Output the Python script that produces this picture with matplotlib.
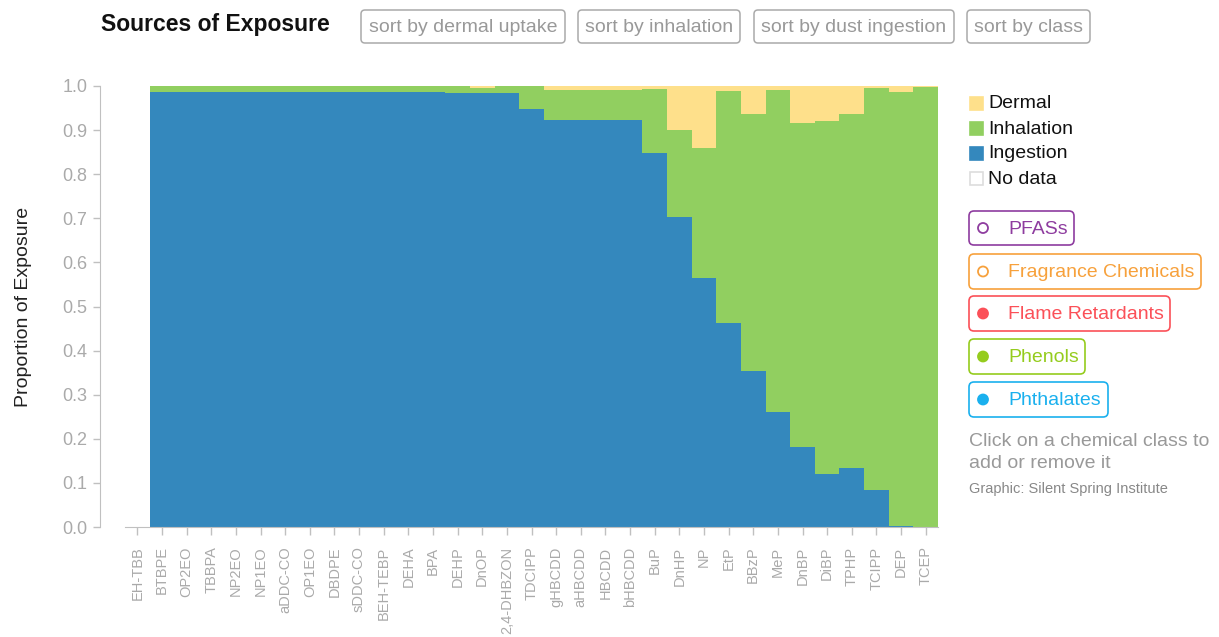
import numpy as np
import matplotlib
matplotlib.use("Agg")
import matplotlib.pyplot as plt
from matplotlib.patches import FancyBboxPatch, Rectangle, Circle

plt.rcParams['font.family'] = ['Liberation Sans', 'DejaVu Sans']

# ---------------- data ----------------
chemicals = ["EH-TBB", "BTBPE", "OP2EO", "TBBPA", "NP2EO", "NP1EO", "aDDC-CO", "OP1EO",
             "DBDPE", "sDDC-CO", "BEH-TEBP", "DEHA", "BPA", "DEHP", "DnOP", "2,4-DHBZON",
             "TDCIPP", "gHBCDD", "aHBCDD", "HBCDD", "bHBCDD", "BuP", "DnHP", "NP", "EtP",
             "BBzP", "MeP", "DnBP", "DiBP", "TPHP", "TCIPP", "DEP", "TCEP"]
ingestion = [np.nan, 0.987, 0.987, 0.987, 0.987, 0.987, 0.987, 0.987, 0.987, 0.987, 0.987,
             0.987, 0.987, 0.985, 0.983, 0.983, 0.947, 0.923, 0.923, 0.923, 0.923, 0.847,
             0.704, 0.565, 0.462, 0.354, 0.261, 0.181, 0.120, 0.134, 0.084, 0.003, 0.000]
inhalation = [np.nan, 0.013, 0.013, 0.013, 0.013, 0.013, 0.013, 0.013, 0.013, 0.013, 0.013,
              0.013, 0.013, 0.015, 0.013, 0.017, 0.053, 0.068, 0.068, 0.068, 0.068, 0.146,
              0.196, 0.294, 0.527, 0.583, 0.730, 0.734, 0.801, 0.803, 0.912, 0.984, 0.998]
dermal = [np.nan, 0.0, 0.0, 0.0, 0.0, 0.0, 0.0, 0.0, 0.0, 0.0, 0.0,
          0.0, 0.0, 0.0, 0.004, 0.0, 0.0, 0.009, 0.009, 0.009, 0.009, 0.007,
          0.100, 0.141, 0.011, 0.063, 0.009, 0.085, 0.079, 0.063, 0.004, 0.013, 0.002]
y_ticks = [0.0, 0.1, 0.2, 0.3, 0.4, 0.5, 0.6, 0.7, 0.8, 0.9, 1.0]

sort_buttons = ["sort by dermal uptake", "sort by inhalation", "sort by dust ingestion", "sort by class"]
source_legend = ["Dermal", "Inhalation", "Ingestion", "No data"]
classes = ["PFASs", "Fragrance Chemicals", "Flame Retardants", "Phenols", "Phthalates"]
class_active = [False, False, True, True, True]

# ---------------- styles ----------------
C_ING = "#3488bd"
C_INH = "#91cf60"
C_DER = "#fee08b"
C_AXIS = "#c0c0c0"
C_TICKTXT = "#aaaaaa"
class_colors = ["#8e3c9f", "#f7a13c", "#fb5058", "#95cc1e", "#1ab0ee"]

W, H = 1219, 637
fig = plt.figure(figsize=(W / 100, H / 100), dpi=100)
fig.patch.set_facecolor("white")

# main axes
ax = fig.add_axes([125 / W, 1 - 527 / H, (938 - 125) / W, (527 - 86) / H])
for s in ["top", "right"]:
    ax.spines[s].set_visible(False)
ax.spines["left"].set_position(("outward", 18))
ax.spines["left"].set_color(C_AXIS)
ax.spines["bottom"].set_color(C_AXIS)

x = np.arange(len(chemicals))
ing = np.array(ingestion, dtype=float)
inh = np.array(inhalation, dtype=float)
der = np.array(dermal, dtype=float)
kw = dict(width=1.0, linewidth=0, antialiased=False)
ax.bar(x, ing, color=C_ING, **kw)
ax.bar(x, inh, bottom=ing, color=C_INH, **kw)
ax.bar(x, der, bottom=ing + inh, color=C_DER, **kw)

ax.set_xlim(-0.5, len(chemicals) - 0.5)
ax.set_ylim(0, 1)
ax.set_xticks(x)
ax.set_xticklabels(chemicals, rotation=90, va="top", ha="center")
ax.set_yticks(y_ticks)
ax.set_yticklabels([f"{v:.1f}" for v in y_ticks])
ax.tick_params(axis="x", length=6, width=1, color=C_AXIS, pad=8,
               labelsize=10.5, labelcolor=C_TICKTXT)
ax.tick_params(axis="y", length=5, width=1, color=C_AXIS, pad=4,
               labelsize=13, labelcolor=C_TICKTXT)
ax.set_ylabel("Proportion of Exposure", fontsize=14, color="#222222", labelpad=22)
ax.set_facecolor("none")

# overlay in pixel coordinates for the UI decorations
ov = fig.add_axes([0, 0, 1, 1], zorder=-1)
ov.set_xlim(0, W)
ov.set_ylim(H, 0)
ov.axis("off")

ov.text(101, 25, "Sources of Exposure", fontsize=16.5, fontweight="bold", color="#111111",
        ha="left", va="center")
btn_x = [(361, 565), (578, 740), (754, 954), (967, 1090)]
for (x0, x1), label in zip(btn_x, sort_buttons):
    ov.add_patch(FancyBboxPatch((x0, 10), x1 - x0, 33, boxstyle="round,pad=0,rounding_size=4",
                                facecolor="white", edgecolor="#aaaaaa", linewidth=1.1))
    ov.text((x0 + x1) / 2, 27, label, fontsize=14, color="#999999", ha="center", va="center")

# source legend
leg_colors = [C_DER, C_INH, C_ING, "white"]
leg_edges = [C_DER, C_INH, C_ING, "#dddddd"]
for i, (lab, fc, ec) in enumerate(zip(source_legend, leg_colors, leg_edges)):
    yc = 103 + 25 * i
    ov.add_patch(Rectangle((970, yc - 6.5), 13, 13, facecolor=fc, edgecolor=ec, linewidth=1.2))
    ov.text(988, yc + 1, lab, fontsize=14, color="#111111", ha="left", va="center")

# class buttons
cls_y = [(211, 245), (254, 289), (296, 331), (339, 374), (382, 417)]
cls_x1 = [1074, 1201, 1170, 1085, 1108]
for lab, col, act, (y0, y1), x1 in zip(classes, class_colors, class_active, cls_y, cls_x1):
    ov.add_patch(FancyBboxPatch((969, y0), x1 - 969, y1 - y0, boxstyle="round,pad=0,rounding_size=5",
                                facecolor="white", edgecolor=col, linewidth=1.2))
    yc = (y0 + y1) / 2
    ov.add_patch(Circle((983, yc), 5, facecolor=col if act else "white", edgecolor=col,
                        linewidth=1.3))
    ov.text(1008, yc + 1, lab, fontsize=14, color=col, ha="left", va="center")

ov.text(969, 441, "Click on a chemical class to", fontsize=14, color="#999999", ha="left", va="center")
ov.text(969, 464, "add or remove it", fontsize=14, color="#999999", ha="left", va="center")
ov.text(969, 489, "Graphic: Silent Spring Institute", fontsize=10.5, color="#888888", ha="left", va="center")

fig.savefig("out.png", dpi=100, facecolor="white")
